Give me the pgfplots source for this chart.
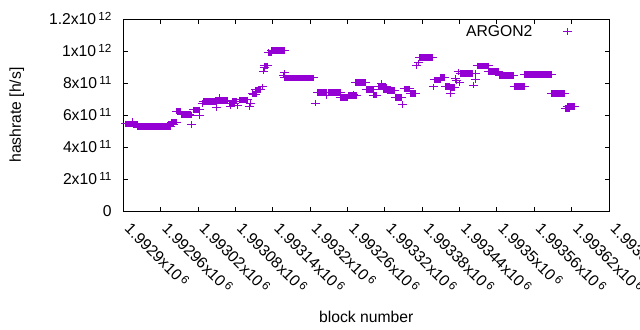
\documentclass[border=0pt]{standalone}
\usepackage{fontspec}
\setmainfont{Liberation Sans}
\usepackage{pgfplots}
\usepackage{pgfplotstable}
\pgfplotsset{compat=1.18}
\definecolor{dv}{HTML}{9400D3}
\newcommand\tf{\fontsize{15.7bp}{18.8bp}\selectfont}
\newcommand\sci[2]{#1x10\hspace{2.3bp}\raisebox{4bp}{\fontsize{11.7bp}{12bp}\selectfont #2}}
% x = block number - 1992900, y = hashrate [h/s]; nan rows separate runs
\pgfplotstableread{
x y
4 5.46e11
14 5.46e11
nan nan
14 5.62e11
nan nan
15 5.43e11
22 5.43e11
nan nan
22 5.29e11
75 5.29e11
nan nan
72 5.44e11
80 5.44e11
nan nan
78 5.56e11
86 5.56e11
nan nan
86 6.25e11
92 6.25e11
nan nan
93 6.03e11
107 6.03e11
nan nan
109 5.42e11
nan nan
110 6.0e11
nan nan
112 6.33e11
123 6.33e11
nan nan
123 5.98e11
nan nan
127 6.73e11
nan nan
128 6.86e11
150 6.86e11
nan nan
150 6.46e11
nan nan
151 6.92e11
168 6.92e11
nan nan
155 7.1e11
nan nan
170 6.7e11
179 6.7e11
nan nan
172 6.56e11
nan nan
176 6.88e11
182 6.88e11
nan nan
184 6.58e11
nan nan
187 6.96e11
200 6.96e11
nan nan
203 6.52e11
nan nan
204 6.73e11
nan nan
208 7.36e11
nan nan
209 7.31e11
213 7.31e11
nan nan
212 7.58e11
221 7.58e11
nan nan
224 7.77e11
nan nan
225 8.75e11
nan nan
226 8.98e11
nan nan
227 9.08e11
232 9.08e11
nan nan
233 9.92e11
nan nan
233 9.9e11
238 9.9e11
nan nan
238 10.04e11
258 10.04e11
nan nan
257 8.5e11
nan nan
258 8.64e11
nan nan
259 8.34e11
305 8.34e11
nan nan
308 6.75e11
nan nan
312 7.41e11
326 7.41e11
nan nan
327 7.22e11
nan nan
329 7.41e11
349 7.41e11
nan nan
349 7.09e11
360 7.09e11
nan nan
361 7.23e11
374 7.23e11
nan nan
369 7.31e11
nan nan
373 8.04e11
389 8.04e11
nan nan
390 7.6e11
401 7.6e11
nan nan
401 7.25e11
407 7.25e11
nan nan
409 7.77e11
422 7.77e11
nan nan
415 7.98e11
nan nan
417 7.58e11
427 7.58e11
nan nan
424 7.55e11
436 7.55e11
nan nan
437 7.1e11
447 7.1e11
nan nan
448 6.67e11
nan nan
451 7.65e11
460 7.65e11
nan nan
461 7.36e11
469 7.36e11
nan nan
471 9.08e11
nan nan
474 9.27e11
nan nan
476 9.6e11
497 9.6e11
nan nan
498 7.77e11
nan nan
500 8.21e11
510 8.21e11
nan nan
509 8.36e11
516 8.36e11
nan nan
518 7.79e11
524 7.79e11
nan nan
526 7.36e11
nan nan
525 7.74e11
532 7.74e11
nan nan
534 8.29e11
nan nan
535 8.14e11
nan nan
539 8.71e11
nan nan
540 8.02e11
nan nan
541 8.6e11
561 8.6e11
nan nan
562 7.88e11
nan nan
565 8.23e11
nan nan
566 8.6e11
nan nan
568 9.09e11
586 9.09e11
nan nan
587 8.72e11
603 8.72e11
nan nan
604 8.47e11
626 8.47e11
nan nan
628 7.79e11
645 7.79e11
nan nan
644 8.54e11
688 8.54e11
nan nan
688 7.36e11
709 7.36e11
nan nan
710 6.39e11
nan nan
710 6.42e11
716 6.42e11
nan nan
713 6.54e11
725 6.54e11
}\argon
\begin{document}
\tf
\begin{tikzpicture}
\begin{axis}[
  scale only axis, width=485.6bp, height=191.7bp,
  at={(0,0)}, anchor=south west,
  xmin=0, xmax=780, ymin=0, ymax=1.2e12,
  scaled x ticks=false, scaled y ticks=false,
  xtick={0,60,...,780},
  xticklabels={\sci{1.9929}{6},\sci{1.99296}{6},\sci{1.99302}{6},\sci{1.99308}{6},\sci{1.99314}{6},\sci{1.9932}{6},\sci{1.99326}{6},\sci{1.99332}{6},\sci{1.99338}{6},\sci{1.99344}{6},\sci{1.9935}{6},\sci{1.99356}{6},\sci{1.99362}{6},\sci{1.99368}{6}},
  ytick={0,2e11,4e11,6e11,8e11,1e12,1.2e12},
  yticklabels={0,\sci{2}{11},\sci{4}{11},\sci{6}{11},\sci{8}{11},\sci{1}{12},\sci{1.2}{12}},
  tick align=inside, tick pos=both,
  major tick length=4.5bp,
  axis line style={line width=1bp},
  every tick/.style={black, line width=1bp},
  tick label style={font=\tf},
  xticklabel style={xshift=0.4bp, yshift=-18.8bp, rotate=-45, anchor=base west, inner sep=0pt},
  yticklabel style={xshift=-11.7bp, yshift=-5.6bp, anchor=base east, inner sep=0pt},
  xlabel={block number}, ylabel={hashrate [h/s]},
  every axis x label/.style={at={(rel axis cs:0.5,0)}, yshift=-105.6bp, anchor=center, font=\tf},
  every axis y label/.style={at={(rel axis cs:0,0.5)}, xshift=-106.7bp, rotate=90, anchor=center, font=\tf},
  legend style={draw=none, fill=none, at={(rel axis cs:0.9232,0.9317)}, anchor=east, inner sep=0pt, font=\tf},
  legend plot pos=right,
  legend cell align=right,
  legend image code/.code={\path[draw=none] (0,0) -- (37bp,0); \draw[dv, line width=1bp] plot[mark=+, mark size=3.2bp, mark options={xscale=1.4}] coordinates {(32.7bp,1bp)};},
  unbounded coords=jump,
  clip=false,
]
\addplot[dv, line width=6.5bp, no markers, forget plot] table[x=x, y=y] {\argon};
\addplot[dv, only marks, mark=+, mark size=3.2bp, mark options={xscale=1.4, line width=1bp}] table[x=x, y=y] {\argon};
\addlegendentry{ARGON2}
\end{axis}
\pgfresetboundingbox
\path[use as bounding box] (-123.4bp,-119bp) rectangle (516.6bp,211bp);
\end{tikzpicture}
\end{document}
